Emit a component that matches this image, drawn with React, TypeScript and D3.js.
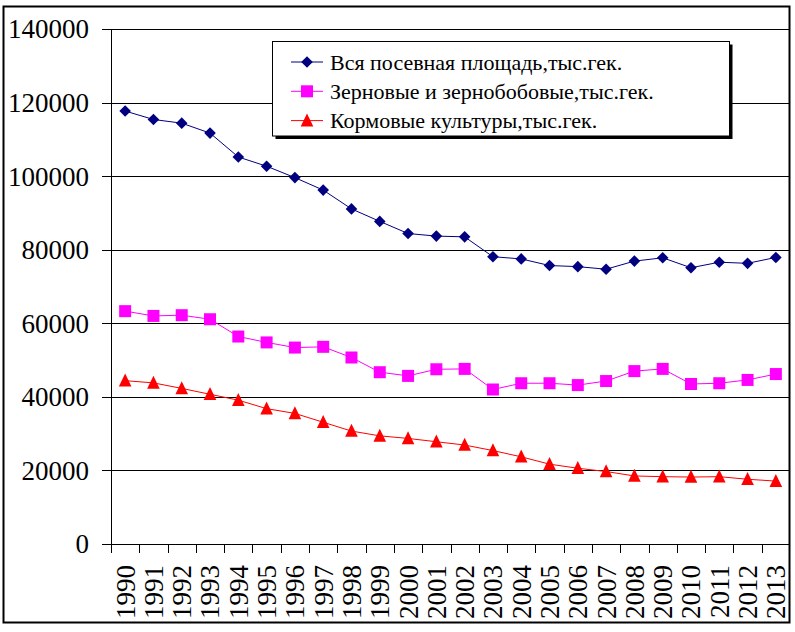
import React, { useEffect, useRef } from 'react';
import * as d3 from 'd3';

const years = [
  '1990', '1991', '1992', '1993', '1994', '1995', '1996', '1997', '1998', '1999', '2000', '2001',
  '2002', '2003', '2004', '2005', '2006', '2007', '2008', '2009', '2010', '2011', '2012', '2013',
];
const totalArea = [
  117700, 115400, 114400, 111700, 105200, 102700, 99600, 96200, 91100, 87700, 84400, 83700,
  83500, 78100, 77500, 75700, 75400, 74700, 76900, 77800, 75100, 76600, 76300, 77900,
];
const grainArea = [
  63300, 62000, 62200, 61100, 56400, 54800, 53400, 53600, 50700, 46700, 45700, 47500,
  47600, 42000, 43700, 43700, 43200, 44300, 47000, 47600, 43500, 43700, 44600, 46200,
];
const fodderArea = [
  44400, 43800, 42300, 40700, 39100, 36800, 35500, 33100, 30700, 29400, 28700, 27800,
  26900, 25400, 23700, 21700, 20600, 19700, 18500, 18300, 18200, 18300, 17600, 17100,
];
const yTicks = [0, 20000, 40000, 60000, 80000, 100000, 120000, 140000];
const seriesNames = [
  'Вся посевная площадь,тыс.гек.',
  'Зерновые и зернобобовые,тыс.гек.',
  'Кормовые культуры,тыс.гек.',
];
const seriesColors = ['#000080', '#FF00FF', '#FF0000'];

const W = 795;
const H = 632;
const margin = { left: 111, right: 5, top: 29, bottom: 88 };
const FONT = 'Liberation Serif';

type Marker = 'diamond' | 'square' | 'triangle';
const markers: Marker[] = ['diamond', 'square', 'triangle'];

const markerPath = (m: Marker) => {
  if (m === 'diamond') return 'M0,-5.8L5.8,0L0,5.8L-5.8,0Z';
  if (m === 'square') return d3.symbol(d3.symbolSquare, 144)() || '';
  return 'M0,-7.2L6.3,5.8L-6.3,5.8Z';
};

const draw = (node: SVGSVGElement) => {
  const svg = d3.select(node);
  svg.selectAll('*').remove();

  const x = d3.scaleBand<string>().domain(years).range([margin.left, W - margin.right]);
  const y = d3.scaleLinear().domain([0, 140000]).range([H - margin.bottom, margin.top]);
  const cx = (yr: string) => (x(yr) || 0) + x.bandwidth() / 2;
  const py = (v: number) => Math.round(y(v)) + 0.5;
  const x0 = margin.left;
  const x1 = W - margin.right;
  const yBase = y(0);

  svg
    .append('rect')
    .attr('x', 3.5)
    .attr('y', 6.5)
    .attr('width', 786)
    .attr('height', 616)
    .attr('fill', '#fff')
    .attr('stroke', '#000')
    .attr('stroke-width', 2);

  // grid + y ticks
  const yg = svg.append('g');
  yg.selectAll('line.grid')
    .data(yTicks.filter((t) => t > 0))
    .join('line')
    .attr('x1', x0)
    .attr('x2', x1)
    .attr('y1', py)
    .attr('y2', py)
    .attr('stroke', '#000');
  yg.selectAll('line.tick')
    .data(yTicks)
    .join('line')
    .attr('class', 'tick')
    .attr('x1', x0 - 9)
    .attr('x2', x0)
    .attr('y1', py)
    .attr('y2', py)
    .attr('stroke', '#000');
  yg.selectAll('text')
    .data(yTicks)
    .join('text')
    .attr('x', 89)
    .attr('y', (d) => y(d))
    .attr('dy', '0.35em')
    .attr('text-anchor', 'end')
    .attr('font-family', FONT)
    .attr('font-size', 27)
    .text((d) => String(d));

  svg.append('line').attr('x1', x0 + 0.5).attr('x2', x0 + 0.5).attr('y1', margin.top).attr('y2', yBase + 9).attr('stroke', '#000');
  svg.append('line').attr('x1', x0).attr('x2', x1).attr('y1', py(0)).attr('y2', py(0)).attr('stroke', '#000');

  const xg = svg.append('g');
  xg.selectAll('line')
    .data(years.slice(1))
    .join('line')
    .attr('x1', (d) => Math.round(x(d) || 0) + 0.5)
    .attr('x2', (d) => Math.round(x(d) || 0) + 0.5)
    .attr('y1', yBase)
    .attr('y2', yBase + 9)
    .attr('stroke', '#000');
  xg.selectAll('text')
    .data(years)
    .join('text')
    .attr('transform', (d) => `translate(${cx(d)},565) rotate(-90)`)
    .attr('dy', '0.35em')
    .attr('text-anchor', 'end')
    .attr('font-family', FONT)
    .attr('font-size', 27)
    .text((d) => d);

  const series = [totalArea, grainArea, fodderArea];
  const line = d3
    .line<number>()
    .x((_, i) => cx(years[i]))
    .y((d) => y(d));
  series.forEach((values, si) => {
    const g = svg.append('g');
    g.append('path').attr('d', line(values) || '').attr('fill', 'none').attr('stroke', seriesColors[si]);
    g.selectAll('path.m')
      .data(values)
      .join('path')
      .attr('class', 'm')
      .attr('d', markerPath(markers[si]))
      .attr('transform', (d, i) => `translate(${cx(years[i])},${y(d)})`)
      .attr('fill', seriesColors[si]);
  });

  // legend
  const lg = svg.append('g');
  lg.append('rect').attr('x', 275.5).attr('y', 44.5).attr('width', 457).attr('height', 94.5).attr('fill', '#000');
  lg.append('rect')
    .attr('x', 272.5)
    .attr('y', 41.5)
    .attr('width', 457)
    .attr('height', 94.5)
    .attr('fill', '#fff')
    .attr('stroke', '#000');
  seriesNames.forEach((name, i) => {
    const ly = 62 + i * 29.3;
    lg.append('line').attr('x1', 291).attr('x2', 323).attr('y1', ly).attr('y2', ly).attr('stroke', seriesColors[i]);
    lg.append('path').attr('d', markerPath(markers[i])).attr('transform', `translate(307,${ly})`).attr('fill', seriesColors[i]);
    lg.append('text')
      .attr('x', 330)
      .attr('y', ly)
      .attr('dy', '0.35em')
      .attr('font-family', FONT)
      .attr('font-size', 22)
      .text(name);
  });
};

export default function App() {
  const ref = useRef<SVGSVGElement>(null);
  useEffect(() => {
    if (ref.current) draw(ref.current);
  }, []);
  return (
    <>
      <style>{`body{margin:0}`}</style>
      <svg ref={ref} width={W} height={H} style={{ display: 'block', background: '#fff', fontFamily: FONT }} />
    </>
  );
}
